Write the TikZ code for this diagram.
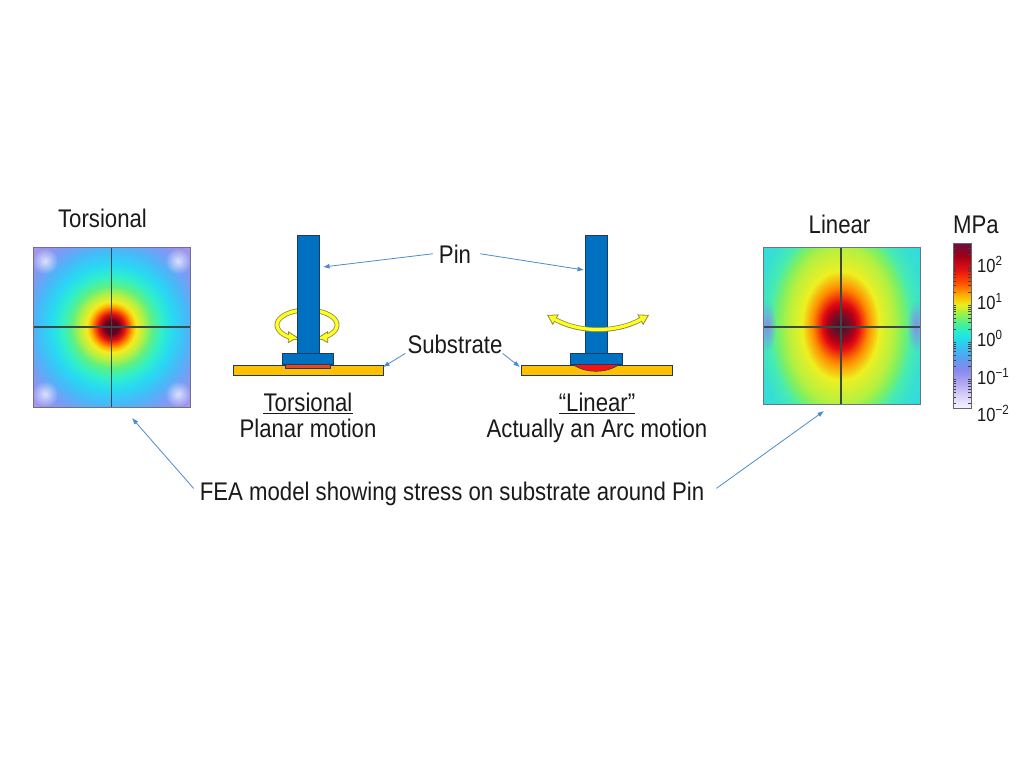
\documentclass[tikz,border=0pt]{standalone}
\usepackage{fontspec}
\setmainfont{Liberation Sans}[FakeStretch=0.87]
\usetikzlibrary{arrows.meta,fadings}
\definecolor{txt}{HTML}{1A1A1A}
\definecolor{connc}{HTML}{4A8AD0}
\definecolor{pinblue}{HTML}{0070C0}
\definecolor{navy}{HTML}{1F3A60}
\definecolor{subc}{HTML}{FFC000}
\definecolor{redlayer}{HTML}{E8481E}
\definecolor{lensred}{HTML}{FF1010}
\definecolor{yel}{HTML}{FFFF20}
\definecolor{olivec}{HTML}{8A8A40}
\definecolor{crossc}{HTML}{3A4848}
\definecolor{feaborder}{HTML}{707088}
\definecolor{vio}{HTML}{8C84F0}
% torsional field colours
\definecolor{ta}{HTML}{4A0A28}\definecolor{tb}{HTML}{6A0020}\definecolor{tc}{HTML}{E01010}
\definecolor{td}{HTML}{FF7000}\definecolor{te}{HTML}{FFB000}\definecolor{tf}{HTML}{F4EC20}
\definecolor{tg}{HTML}{B8F040}\definecolor{th}{HTML}{60F080}\definecolor{ti}{HTML}{30F0C8}
\definecolor{tj}{HTML}{28D8F4}\definecolor{tk}{HTML}{48B8F8}\definecolor{tl}{HTML}{7A9CF4}
\definecolor{tm}{HTML}{9C92F0}\definecolor{tn}{HTML}{A898F0}
% linear field colours
\definecolor{la}{HTML}{4A0A28}\definecolor{lb}{HTML}{701028}\definecolor{lm}{HTML}{B00018}
\definecolor{lc}{HTML}{E81010}
\definecolor{ld}{HTML}{FF8A00}\definecolor{le}{HTML}{EEF020}\definecolor{lf}{HTML}{B8F040}
\definecolor{lg}{HTML}{80F060}\definecolor{lh}{HTML}{48ECB0}\definecolor{li}{HTML}{38E0D0}
\definecolor{lj}{HTML}{30D8E8}
% colour bar
\definecolor{ca}{HTML}{F4F4FF}\definecolor{cb}{HTML}{D8D0F8}\definecolor{cc}{HTML}{B0A8F0}
\definecolor{cd}{HTML}{8888F0}\definecolor{ce}{HTML}{5AA0F0}\definecolor{cf}{HTML}{30C8F0}
\definecolor{cg}{HTML}{20E8E0}\definecolor{ch}{HTML}{40F0A0}\definecolor{ci}{HTML}{90F050}
\definecolor{cj}{HTML}{E8F020}\definecolor{ck}{HTML}{FFB000}\definecolor{cl}{HTML}{FF5000}
\definecolor{cm}{HTML}{E81010}\definecolor{cn}{HTML}{A00018}\definecolor{co}{HTML}{681040}
\pgfdeclareradialshading{torsfield}{\pgfpointorigin}{color(0bp)=(ta); color(2.2bp)=(tb);
 color(4.1bp)=(tc); color(5.7bp)=(td); color(6.6bp)=(te); color(7.9bp)=(tf);
 color(10.1bp)=(tg); color(12.7bp)=(th); color(15.8bp)=(ti); color(19.6bp)=(tj);
 color(24bp)=(tk); color(28.5bp)=(tl); color(33.2bp)=(tm); color(35bp)=(tn); color(50bp)=(tn)}
\pgfdeclareverticalshading{cbarshade}{100bp}{color(0bp)=(ca); color(25bp)=(ca);
 color(28.9bp)=(cb); color(32.6bp)=(cc); color(36.5bp)=(cd); color(40.2bp)=(ce);
 color(44.1bp)=(cf); color(47.1bp)=(cg); color(50.2bp)=(ch); color(53.2bp)=(ci);
 color(56.2bp)=(cj); color(59.2bp)=(ck); color(62.9bp)=(cl); color(66.8bp)=(cm);
 color(71bp)=(cn); color(75bp)=(co); color(100bp)=(co)}
\tikzfading[name=blobfade, inner color=transparent!0, outer color=transparent!100]
\tikzset{ytip/.tip={Triangle[length=10pt,width=12pt,fill=yel,line width=0.8pt]}}
\newcommand\lblfont{\fontsize{25.5}{28}\selectfont}
\newcommand\cbfont{\fontsize{19}{21}\selectfont}
\begin{document}
\begin{tikzpicture}[x=1pt,y=-1pt,
  lbl/.style={font=\lblfont, text=txt, inner sep=0pt, anchor=base},
  cblbl/.style={font=\cbfont, text=txt, inner sep=0pt, anchor=base west},
  conn/.style={draw=connc, line width=0.8pt, -{Latex[length=6.5pt,width=5pt]}},
  pinbody/.style={fill=pinblue, draw=navy, line width=0.7pt},
  substbody/.style={fill=subc, draw=navy, line width=0.7pt},
  yout/.style={draw=olivec, line width=4.8pt},
  yin/.style={draw=yel, line width=3.2pt},
  feacross/.style={draw=crossc, line width=1.3pt},
  feaframe/.style={draw=feaborder, line width=0.9pt},
  uline/.style={draw=txt, line width=1.2pt},
  cbtick/.style={draw=black!75, line width=0.6pt}]
\path[fill=white, use as bounding box] (0,0) rectangle (1024,768);

% ---------- Torsional FEA map ----------
\begin{scope}
  \clip (33,247) rectangle (190,407);
  \shade[shading=torsfield] (33,247) rectangle (190,407);
  \foreach \cx/\cy in {45/261, 178/261, 45/394, 178/394}
    \fill[white, fill opacity=0.7, path fading=blobfade] (\cx,\cy) circle[radius=13pt];
\end{scope}
\draw[feacross] (111.5,247) -- (111.5,407);
\draw[feacross] (33,327) -- (190,327);
\draw[feaframe] (33,247) rectangle (190,407);
\coordinate (feaTgtL) at (132,418);

% ---------- Linear FEA map ----------
\begin{scope}
  \clip (763,247) rectangle (920,404);
  \fill[lj] (763,247) rectangle (920,404);
  \foreach \ra/\ka/\ca/\rb/\kb/\cb in {104/1.4/lj/84/1.4/li, 84/1.4/li/72/1.42/lh,
      72/1.42/lh/62/1.45/lg, 62/1.45/lg/53/1.48/lf, 53/1.48/lf/39/1.42/le,
      39/1.42/le/28/1.38/ld, 28/1.38/ld/19/1.3/lc, 19/1.3/lc/14/1.2/lm,
      14/1.2/lm/9/1.1/lb, 9/1.1/lb/0/1.0/la} {
    \foreach \s in {0,...,9} {
      \pgfmathsetmacro\rr{\ra-(\ra-\rb)*\s/10}
      \pgfmathsetmacro\yr{\rr*(\ka-(\ka-\kb)*\s/10)}
      \pgfmathtruncatemacro\pp{10*\s}
      \fill[\cb!\pp!\ca] (841,326) ellipse[x radius=\rr pt, y radius=\yr pt];
    }
  }
  \fill[vio, fill opacity=0.9, path fading=blobfade] (767,326) ellipse[x radius=9pt, y radius=26pt];
  \fill[vio, fill opacity=0.9, path fading=blobfade] (916,326) ellipse[x radius=9pt, y radius=26pt];
\end{scope}
\draw[feacross] (841,247) -- (841,404);
\draw[feacross] (763,327) -- (920,327);
\draw[feaframe] (763,247) rectangle (920,404);
\coordinate (feaTgtR) at (824,411);

% ---------- colour bar ----------
\shade[shading=cbarshade] (953,243) rectangle (971,408);
\foreach \e in {-2,-1,0,1} {
  \foreach \k in {2,...,9} {
    \pgfmathsetmacro\yy{266-37.25*(\e+log10(\k)-2)}
    \draw[cbtick] (953,\yy) -- ++(3,0);
    \draw[cbtick] (971,\yy) -- ++(-3,0);
  }
}
\foreach \k in {2,3} {
  \pgfmathsetmacro\yy{266-37.25*log10(\k)}
  \draw[cbtick] (953,\yy) -- ++(3,0);
  \draw[cbtick] (971,\yy) -- ++(-3,0);
}
\draw[draw=black!60, line width=0.8pt] (953,243) rectangle (971,408);
\node[cblbl] (c2) at (977,272) {10\textsuperscript{2}};
\node[cblbl] (c1) at (977,309) {10\textsuperscript{1}};
\node[cblbl] (c0) at (977,346) {10\textsuperscript{0}};
\node[cblbl] (cm1) at (977,384) {10\textsuperscript{−1}};
\node[cblbl] (cm2) at (977,421) {10\textsuperscript{−2}};

% ---------- torsional pin ----------
\draw[substbody] (233,365) rectangle (383,375);
\draw[fill=redlayer, draw=navy, line width=0.6pt] (285,363.5) rectangle (330,368.5);
\draw[yout, -{ytip}] plot[smooth, domain=90:235, samples=30, variable=\t]
  ({307+30*cos(\t)},{325-15*sin(\t)}) -- (298,337.5);
\draw[yin, shorten >=9pt] plot[smooth, domain=90:235, samples=30, variable=\t]
  ({307+30*cos(\t)},{325-15*sin(\t)}) -- (298,337.5);
\draw[yout, -{ytip}] plot[smooth, domain=90:-55, samples=30, variable=\t]
  ({307+30*cos(\t)},{325-15*sin(\t)}) -- (318,337.5);
\draw[yin, shorten >=9pt] plot[smooth, domain=90:-55, samples=30, variable=\t]
  ({307+30*cos(\t)},{325-15*sin(\t)}) -- (318,337.5);
\draw[pinbody] (297,235) rectangle (319,353.5);
\draw[pinbody] (282,353) rectangle (333,364);
\coordinate (pinTgtL) at (323,267);
\coordinate (subTgtL) at (383,367);

% ---------- linear pin ----------
\draw[substbody] (521,365) rectangle (672,375);
\draw[fill=lensred, draw=navy, line width=0.6pt]
  (571,363) .. controls (584,374) and (608,374) .. (621,363) -- cycle;
\draw[pinbody] (585,235) rectangle (607,353.5);
\draw[pinbody] (570,353) rectangle (622,364);
\draw[yout, {ytip}-{ytip}] (547,315) .. controls (580,333) and (616,333) .. (649,315);
\draw[yin, shorten >=9pt, shorten <=9pt] (547,315) .. controls (580,333) and (616,333) .. (649,315);
\coordinate (pinTgtR) at (584,270);
\coordinate (subTgtR) at (520,367);

% ---------- labels ----------
\node[lbl] (tT) at (102.5,227) {Torsional};
\node[lbl] (tL) at (839.5,233) {Linear};
\node[lbl] (mpa) at (976,233) {MPa};
\node[lbl] (pin) at (455,263) {Pin};
\node[lbl] (sub) at (455,353) {Substrate};
\node[lbl] (torsU) at (308,411) {Torsional};
\node[lbl] (planar) at (308,437) {Planar motion};
\node[lbl] (linU) at (597,411) {“Linear”};
\node[lbl] (arcm) at (597,437) {Actually an Arc motion};
\node[lbl] (fea) at (452,500) {FEA model showing stress on substrate around Pin};
\draw[uline] ([yshift=-2.5pt]torsU.base west) -- ([yshift=-2.5pt]torsU.base east);
\draw[uline] ([yshift=-2.5pt]linU.base west) -- ([yshift=-2.5pt]linU.base east);

% ---------- connectors ----------
\draw[conn] ([xshift=-6pt]pin.west) -- (pinTgtL);
\draw[conn] ([xshift=9pt]pin.east) -- (pinTgtR);
\draw[conn] ([xshift=-2pt]sub.south west) -- (subTgtL);
\draw[conn] (sub.south east) -- (subTgtR);
\draw[conn] ([xshift=-6pt,yshift=5pt]fea.west) -- (feaTgtL);
\draw[conn] ([xshift=12pt,yshift=5pt]fea.east) -- (feaTgtR);
\end{tikzpicture}
\end{document}
